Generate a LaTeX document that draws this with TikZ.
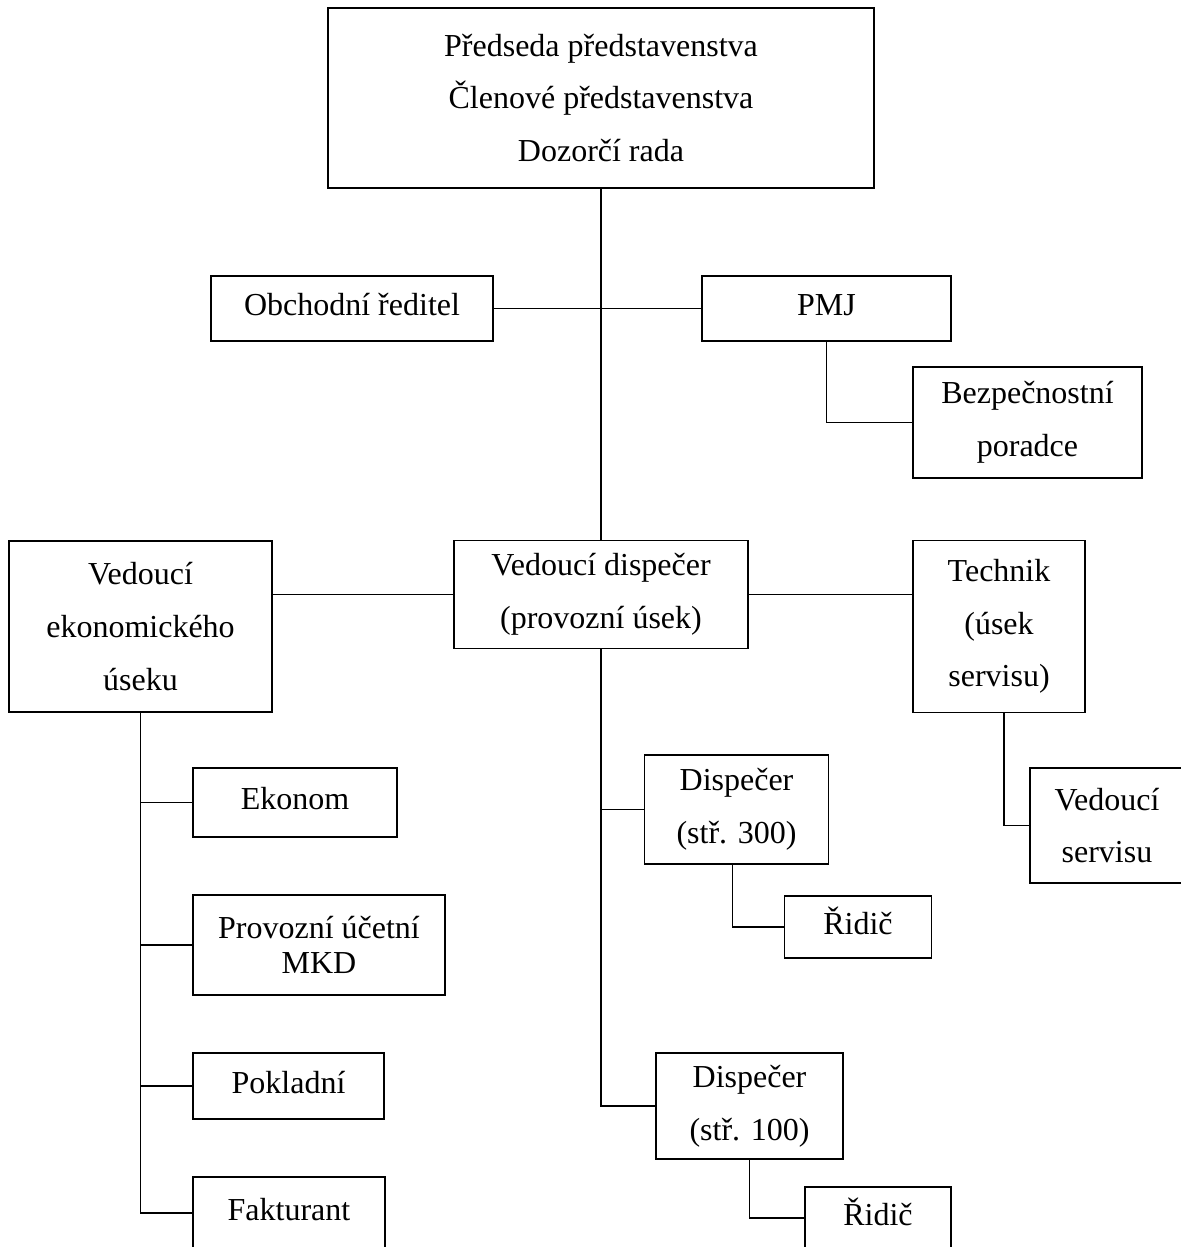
\documentclass[tikz,border=0pt]{standalone}
\usepackage{fontspec}
\setmainfont{Liberation Serif}
\begin{document}
\begin{tikzpicture}[x=0.5pt, y=-0.5pt,
  box/.style 2 args={draw, line width=0.9pt, inner sep=0pt, align=center,
    minimum width=#1*0.5pt, minimum height=#2*0.5pt,
    font=\fontsize{16}{26.3}\selectfont},
  oneline/.style={text height=11pt, text depth=4pt},
  link/.style={line width=0.9pt}]
\useasboundingbox (0,0) rectangle (1181,1247);

\node[box={546}{180}] (board) at (601,98) {Předseda představenstva\\Členové představenstva\\Dozorčí rada};
\node[box={282}{65}, oneline] (obch) at (352,308.5) {Obchodní ředitel};
\node[box={249}{65}, oneline] (pmj) at (826.5,308.5) {PMJ};
\node[box={229}{111}] (bezp) at (1027.5,422.5) {Bezpečnostní\\poradce};

\node[box={263}{171}] (vekon) at (140.5,626.5) {Vedoucí\\ekonomického\\úseku};
\node[box={294}{108}] (vdisp) at (601,594.5) {Vedoucí dispečer\\(provozní úsek)};
\node[box={172}{172}] (tech) at (999,626.5) {Technik\\(úsek\\servisu)};

\node[box={204}{69}, oneline] (ekonom) at (295,802.5) {Ekonom};
\node[box={252}{100}, font=\fontsize{16}{17.6}\selectfont] (provoz) at (319,945) {Provozní účetní\\MKD};
\node[box={191}{66}, oneline] (pokl) at (288.5,1086) {Pokladní};
\node[box={192}{72}, oneline] (faktur) at (289,1213) {Fakturant};

\node[box={184}{109}] (disp300) at (736.5,809.5) {Dispečer\\(stř. 300)};
\node[box={147}{62}, oneline] (ridic1) at (858,927) {Řidič};
\node[box={187}{106}] (disp100) at (749.5,1106) {Dispečer\\(stř. 100)};
\node[box={146}{62}, oneline] (ridic2) at (878,1218) {Řidič};

\node[box={154}{115}] (vserv) at (1107,825.5) {Vedoucí\\servisu};

% vedeni
\draw[link] (board.south) -- (vdisp.north);
\draw[link] (obch.east) -- (pmj.west);
\draw[link] (pmj.south) |- (bezp.west);
\draw[link] (vekon.east |- vdisp.west) -- (vdisp.west);
\draw[link] (vdisp.east) -- (tech.west |- vdisp.east);

% ekonomicky usek
\draw[link] (vekon.south) |- (faktur.west);
\foreach \n in {ekonom, provoz, pokl}
  \draw[link] (vekon.south |- \n.west) -- (\n.west);

% provozni usek
\draw[link] (vdisp.south) |- (disp100.west);
\draw[link] (vdisp.south |- disp300.west) -- (disp300.west);
\draw[link] ([xshift=-2pt]disp300.south) |- (ridic1.west);
\draw[link] (disp100.south) |- (ridic2.west);

% servis
\draw[link] ([xshift=2.5pt]tech.south) |- (vserv.west);
\end{tikzpicture}
\end{document}
